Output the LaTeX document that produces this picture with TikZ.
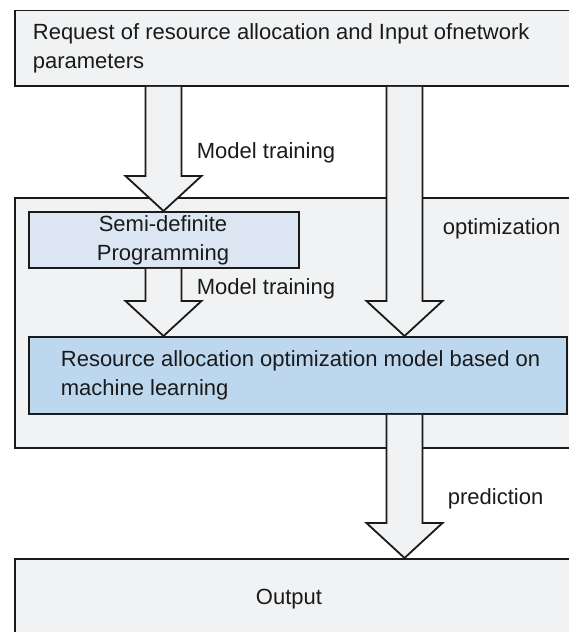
\documentclass[tikz,border=0pt]{standalone}
\usepackage{fontspec}
\setmainfont{Liberation Sans}
\usetikzlibrary{calc}
\definecolor{panelgray}{RGB}{241,242,243}
\definecolor{sdpblue}{RGB}{220,230,242}
\definecolor{modelblue}{RGB}{189,215,238}
\definecolor{inkdark}{RGB}{26,26,26}
\tikzset{
  panel/.style={draw=inkdark, fill=panelgray, rectangle, inner sep=0pt, anchor=north west},
  sdpbox/.style={panel, fill=sdpblue},
  modelbox/.style={panel, fill=modelblue},
  label/.style={inner sep=0pt, text=inkdark},
  blockarrow/.style={draw=inkdark, fill=panelgray, line join=miter},
}
% hollow block arrow from a start coordinate down to a tip coordinate
\newcommand\blockarrow[2]{%
  \draw[blockarrow] ($(#1)+(-18,0)$) -- ($(#2)+(-18,-35)$) -- ($(#2)+(-38,-35)$)
    -- (#2) -- ($(#2)+(38,-35)$) -- ($(#2)+(18,-35)$) -- ($(#1)+(18,0)$);}
\begin{document}
\begin{tikzpicture}[x=1pt, y=-1pt, line width=1.8pt,
  font=\fontsize{22}{29}\selectfont]
\useasboundingbox (0,0) rectangle (569,632);

% boxes
\node[panel, minimum width=580pt, minimum height=75.5pt] (input) at (14,9.5) {};
\node[panel, minimum width=580pt, minimum height=250pt] (opt) at (14,197) {};
\node[sdpbox, minimum width=270pt, minimum height=56pt] (sdp) at (28,211) {};
\node[modelbox, minimum width=538pt, minimum height=77pt] (model) at (28,336) {};
\node[panel, minimum width=580pt, minimum height=100pt] (output) at (14,558) {};

% arrow end points
\coordinate (a1s) at (163.5,0 |- input.south);
\coordinate (a1t) at (163.5,0 |- sdp.north);
\coordinate (a2s) at (163.5,0 |- sdp.south);
\coordinate (a2t) at (163.5,0 |- model.north);
\coordinate (a3s) at (404.5,0 |- input.south);
\coordinate (a3t) at (404.5,0 |- model.north);
\coordinate (a4s) at (404.5,0 |- model.south);
\coordinate (a4t) at (404.5,0 |- output.north);

\blockarrow{a1s}{a1t}
\blockarrow{a2s}{a2t}
\blockarrow{a3s}{a3t}
\blockarrow{a4s}{a4t}

% texts
\node[label, anchor=west, align=left] (inputtxt) at (32,48)
  {Request of resource allocation and Input ofnetwork\\parameters};
\node[label, align=center] (sdptxt) at (163,240) {Semi-definite\\Programming};
\node[label, anchor=west, align=left] (modeltxt) at (60,375)
  {Resource allocation optimization model based on\\machine learning};
\node[label] (outtxt) at (289,599) {Output};
\node[label, anchor=west] (train1) at (196,153) {Model training};
\node[label, anchor=west] (train2) at (196,289) {Model training};
\node[label, anchor=west] (optlbl) at (442,229) {optimization};
\node[label, anchor=west] (predlbl) at (447,499) {prediction};
\end{tikzpicture}
\end{document}
